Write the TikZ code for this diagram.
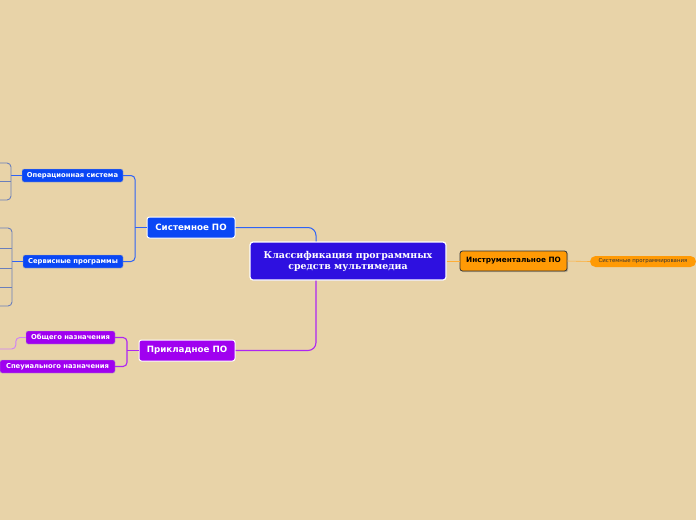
\documentclass[tikz,border=0pt]{standalone}
\usepackage{fontspec}
\setmainfont{DejaVu Sans}
\newfontfamily\rootfont{DejaVu Serif}
\usepackage{tikz}
\usetikzlibrary{calc,shadows}
\definecolor{mapbg}{HTML}{E8D3A8}
\definecolor{rootblue}{HTML}{2E10E0}
\definecolor{sysblue}{HTML}{0A47F5}
\definecolor{apppurple}{HTML}{A000F0}
\definecolor{toolorange}{HTML}{FF9A05}

\begin{document}
\begin{tikzpicture}[x=1pt, y=-1pt,
  rootbox/.style={draw=white, line width=1.2pt, fill=rootblue, rounded corners=3pt,
    minimum width=196pt, minimum height=38pt, align=center, text=white,
    font=\rootfont\bfseries\fontsize{9.4}{11}\selectfont},
  mainbox/.style={draw=white, line width=1pt, rounded corners=2.5pt,
    minimum height=21pt, inner sep=0pt, text=white, font=\bfseries\fontsize{8.7}{10}\selectfont},
  subbox/.style={draw=white!70!black, line width=0.4pt, rounded corners=2pt,
    minimum height=13pt, inner sep=0pt, text=white, font=\bfseries\fontsize{6.8}{8}\selectfont},
  toolbox/.style={draw=black!80, line width=0.8pt, fill=toolorange, rounded corners=2.5pt,
    minimum width=107pt, minimum height=20pt, inner sep=0pt,
    font=\bfseries\fontsize{7.3}{9}\selectfont,
    drop shadow={opacity=0.45, shadow xshift=1.2pt, shadow yshift=-1.2pt}},
  pillbox/.style={fill=toolorange, rounded corners=5.5pt, minimum width=106pt,
    minimum height=11pt, inner sep=0pt, text=black!80, font=\fontsize{5.4}{6}\selectfont},
  sysline/.style={draw=sysblue!85!white, line width=1pt, rounded corners=8pt},
  sysleaf/.style={draw=sysblue!40!gray!85, line width=0.9pt, rounded corners=4pt},
  appline/.style={draw=apppurple!85!white, line width=1.1pt, rounded corners=8pt},
  appleaf/.style={draw=apppurple!50!white, line width=0.9pt, rounded corners=4pt},
  toolline/.style={draw=toolorange!80!white, line width=0.6pt}
]
  \fill[mapbg] (0,0) rectangle (696,520);
  \useasboundingbox (0,0) rectangle (696,520);

  \node[rootbox] (root) at (348,261) {Классификация программных\\средств мультимедиа};

  \node[mainbox, fill=sysblue, minimum width=88pt]    (sys) at (191,227.5) {Системное ПО};
  \node[mainbox, fill=apppurple, minimum width=96pt] (app) at (187,350.5) {Прикладное ПО};
  \node[toolbox] (tool) at (513.5,261) {Инструментальное ПО};
  \node[pillbox] (sysprog) at (643,261.5) {Системные программирования};

  \node[subbox, fill=sysblue, minimum width=101pt]   (os)   at (72.5,175.5) {Операционная система};
  \node[subbox, fill=sysblue, minimum width=100pt]   (serv) at (73,261.5) {Сервисные программы};
  \node[subbox, fill=apppurple, minimum width=89pt]  (gen)  at (70.5,337.5) {Общего назначения};
  \node[subbox, fill=apppurple, minimum width=115pt] (spec) at (57.5,366.5) {Спеуиального назначения};

  % forks and free ends
  \coordinate (sysfork) at (135,227.5);
  \coordinate (appfork) at (127,350.5);
  \coordinate (osfork) at (11,175.5);
  \coordinate (servfork) at (12,261.5);
  \coordinate (os1) at (0,163);
  \coordinate (os2) at (0,181);
  \coordinate (os3) at (0,200);
  \coordinate (sv1) at (0,228);
  \coordinate (sv2) at (0,248);
  \coordinate (sv3) at (0,268);
  \coordinate (sv4) at (0,287);
  \coordinate (sv5) at (0,306);
  \coordinate (genend) at (0,349);

  \draw[sysline] ([xshift=-32pt]root.north) |- (sys.east);
  \draw[appline] ([xshift=-32pt]root.south) |- (app.east);
  \draw[toolline] (root.east) -- (tool.west);
  \draw[toolline] (tool.east) -- (sysprog.west);

  \draw[sysline, rounded corners=4pt] (sys.west) -- (sysfork);
  \draw[sysline, rounded corners=4pt] (os.east) -| (sysfork) |- (serv.east);
  \draw[appline, rounded corners=4pt] (app.west) -- (appfork);
  \draw[appline, rounded corners=4pt] (gen.east) -| (appfork) |- (spec.east);

  \draw[sysline, rounded corners=4pt] (os.west) -- (osfork);
  \draw[sysleaf] (os1) -| (osfork) |- (os3);
  \draw[sysleaf] (os2) -- (os2 -| osfork);
  \draw[sysline, rounded corners=4pt] (serv.west) -- (servfork);
  \draw[sysleaf] (sv1) -| (servfork) |- (sv5);
  \draw[sysleaf] (sv2) -- (sv2 -| servfork);
  \draw[sysleaf] (sv3) -- (sv3 -| servfork);
  \draw[sysleaf] (sv4) -- (sv4 -| servfork);
  \draw[appleaf] (gen.west) -- ++(-10,0) |- (genend);
\end{tikzpicture}
\end{document}
